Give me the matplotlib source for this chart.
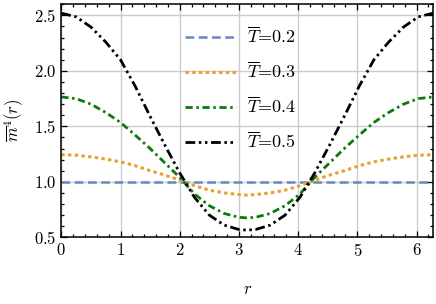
import matplotlib
matplotlib.use("Agg")
import matplotlib.pyplot as plt

plt.rcParams["font.family"] = "serif"
plt.rcParams["font.serif"] = ["cmr10"]
plt.rcParams["mathtext.fontset"] = "cm"
plt.rcParams["axes.formatter.use_mathtext"] = True
plt.rcParams["font.size"] = 12

# Values
r = [0.0, 0.25, 0.5, 0.75, 1.0, 1.25, 1.5, 1.75, 2.0, 2.25, 2.5, 2.75, 3.0, 3.1416,
     3.28, 3.53, 3.78, 4.03, 4.28, 4.53, 4.78, 5.03, 5.28, 5.53, 5.78, 6.03, 6.2832]
m_t02 = [1.0] * len(r)
m_t03 = [1.245, 1.24, 1.225, 1.205, 1.18, 1.145, 1.10, 1.06, 1.015, 0.965, 0.925, 0.90, 0.885, 0.88,
         0.885, 0.90, 0.925, 0.965, 1.015, 1.06, 1.10, 1.145, 1.18, 1.205, 1.225, 1.24, 1.245]
m_t04 = [1.765, 1.75, 1.70, 1.625, 1.535, 1.42, 1.30, 1.17, 1.04, 0.89, 0.785, 0.715, 0.68, 0.675,
         0.68, 0.715, 0.785, 0.89, 1.04, 1.17, 1.30, 1.42, 1.535, 1.625, 1.70, 1.75, 1.765]
m_t05 = [2.52, 2.487, 2.395, 2.26, 2.10, 1.86, 1.59, 1.33, 1.08, 0.86, 0.70, 0.61, 0.57, 0.565,
         0.57, 0.61, 0.70, 0.86, 1.08, 1.33, 1.59, 1.86, 2.10, 2.26, 2.395, 2.487, 2.52]
labels = [r"$\overline{T}$=0.2", r"$\overline{T}$=0.3", r"$\overline{T}$=0.4", r"$\overline{T}$=0.5"]

fig = plt.figure(figsize=(4.36, 3.04), dpi=100)
ax = fig.add_axes([0.1406, 0.2194, 0.8532, 0.7665])

ax.plot(r, m_t02, color="#6688c0", lw=1.8, dashes=(3.5, 1.8), label=labels[0])
ax.plot(r, m_t03, color="#e8a030", lw=2.2, dashes=(1.1, 1.1), label=labels[1])
ax.plot(r, m_t04, color="#0a7a0a", lw=2.0, dashes=(2.6, 1.3, 0.9, 1.3), label=labels[2])
ax.plot(r, m_t05, color="black", lw=2.0, dashes=(3.5, 1.3, 0.9, 1.3, 0.9, 1.3), label=labels[3])

ax.set_xlim(0, 6.2832)
ax.set_ylim(0.5, 2.6)
ax.set_xticks([0, 1, 2, 3, 4, 5, 6])
ax.set_yticks([0.5, 1.0, 1.5, 2.0, 2.5])
ax.minorticks_on()
ax.tick_params(which="both", direction="in", top=True, right=True)
ax.tick_params(which="major", length=4, width=0.9)
ax.tick_params(which="minor", length=2.2, width=0.9)
for s in ax.spines.values():
    s.set_linewidth(1.1)
ax.grid(which="major", color="#cccccc", lw=1.0)
ax.set_axisbelow(True)

ax.set_xlabel(r"$r$", labelpad=16)
ax.set_ylabel(r"$\overline{m}^4(r)$", labelpad=6)

ax.legend(frameon=False, loc="upper left", bbox_to_anchor=(0.29, 0.978), fontsize=13,
          handlelength=2.8, handletextpad=0.6, labelspacing=0.8)

fig.savefig("out.png", dpi=100)
